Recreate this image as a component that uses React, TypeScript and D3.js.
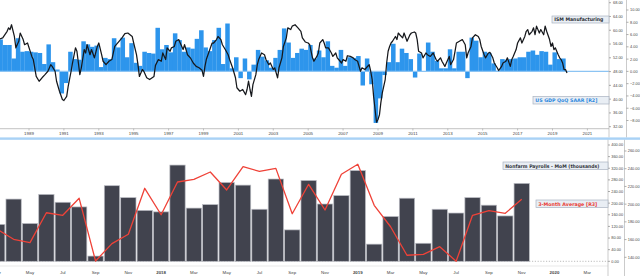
import React from "react";
import * as d3 from "d3";

const W = 640;
const H = 276;

// ---------- top chart data ----------
const yearTicks = [1989, 1991, 1993, 1995, 1997, 1999, 2001, 2003, 2005, 2007, 2009, 2011, 2013, 2015, 2017, 2019, 2021];
const ismTicks = [32, 36, 40, 44, 48, 52, 56, 60, 64, 68];
const gdpTicks = [-8, -6, -4, -2, 0, 2, 4, 6, 8, 10];

const ismSeries: [string, number][] = [
  ["1987-05", 57.5], ["1987-07", 57.8], ["1987-10", 59.7], ["1987-11", 60.7], ["1987-12", 60.2],
  ["1988-01", 61.6], ["1988-03", 58.2], ["1988-04", 54.9], ["1988-06", 56.8], ["1988-07", 59.2],
  ["1988-09", 57.3], ["1988-10", 55.8], ["1988-12", 56.3], ["1989-03", 52.4], ["1989-04", 51.5],
  ["1989-06", 46.6], ["1989-08", 45.2], ["1989-10", 46.2], ["1989-12", 47.1], ["1990-02", 48.1],
  ["1990-04", 50.0], ["1990-05", 49.5], ["1990-07", 48.1], ["1990-08", 45.2], ["1990-10", 42.3],
  ["1990-12", 39.9], ["1991-01", 39.6], ["1991-03", 40.8], ["1991-04", 43.7], ["1991-06", 48.1],
  ["1991-07", 50.5], ["1991-09", 54.9], ["1991-10", 53.9], ["1991-11", 50.5], ["1991-12", 47.1],
  ["1992-01", 49.1], ["1992-03", 54.4], ["1992-04", 53.4], ["1992-05", 55.8], ["1992-07", 52.9],
  ["1992-08", 54.4], ["1992-10", 52.0], ["1992-12", 55.3], ["1993-01", 56.3], ["1993-03", 52.9],
  ["1993-04", 51.0], ["1993-06", 50.0], ["1993-08", 51.0], ["1993-10", 51.5], ["1993-12", 55.3],
  ["1994-03", 56.8], ["1994-05", 57.8], ["1994-07", 59.0], ["1994-09", 59.2], ["1994-12", 58.2],
  ["1995-01", 56.3], ["1995-03", 52.9], ["1995-04", 50.0], ["1995-05", 46.6], ["1995-07", 48.6],
  ["1995-08", 48.1], ["1995-10", 46.2], ["1995-12", 45.7], ["1996-03", 46.6], ["1996-04", 49.8],
  ["1996-06", 51.5], ["1996-08", 51.0], ["1996-09", 53.4], ["1996-11", 51.5], ["1996-12", 54.9],
  ["1997-02", 53.9], ["1997-03", 54.9], ["1997-05", 55.3], ["1997-06", 56.8], ["1997-08", 57.3],
  ["1997-09", 56.3], ["1997-11", 54.4], ["1997-12", 55.8], ["1998-02", 52.9], ["1998-04", 52.0],
  ["1998-06", 50.5], ["1998-08", 49.5], ["1998-10", 49.1], ["1998-12", 48.4], ["1999-01", 46.6],
  ["1999-02", 49.5], ["1999-03", 51.5], ["1999-05", 53.9], ["1999-07", 56.3], ["1999-08", 56.3],
  ["1999-10", 57.3], ["1999-11", 58.2], ["2000-01", 57.3], ["2000-02", 55.8], ["2000-04", 54.4],
  ["2000-06", 52.9], ["2000-07", 51.5], ["2000-09", 49.1], ["2000-11", 46.2], ["2000-12", 43.3],
  ["2001-02", 42.3], ["2001-04", 42.8], ["2001-06", 41.3], ["2001-07", 42.8], ["2001-08", 45.2],
  ["2001-09", 42.8], ["2001-10", 40.8], ["2001-11", 44.2], ["2002-01", 47.1], ["2002-02", 50.0],
  ["2002-03", 51.5], ["2002-05", 53.4], ["2002-07", 52.9], ["2002-08", 51.5], ["2002-10", 50.0],
  ["2002-11", 50.5], ["2003-01", 48.6], ["2003-02", 49.1], ["2003-04", 46.2], ["2003-05", 49.1],
  ["2003-07", 52.0], ["2003-08", 55.3], ["2003-10", 57.8], ["2003-11", 60.7], ["2004-01", 60.2],
  ["2004-02", 61.2], ["2004-04", 61.6], ["2004-06", 60.7], ["2004-08", 59.7], ["2004-09", 57.8],
  ["2004-11", 56.6], ["2005-01", 56.3], ["2005-02", 55.8], ["2005-04", 52.0], ["2005-05", 51.0],
  ["2005-07", 52.4], ["2005-08", 53.4], ["2005-09", 56.3], ["2005-11", 57.3], ["2005-12", 56.3],
  ["2006-01", 54.9], ["2006-03", 54.9], ["2006-05", 53.4], ["2006-06", 52.4], ["2006-08", 53.4],
  ["2006-09", 52.0], ["2006-11", 51.0], ["2006-12", 50.5], ["2007-01", 51.5], ["2007-03", 51.0],
  ["2007-04", 52.6], ["2007-06", 52.4], ["2007-08", 52.0], ["2007-09", 51.5], ["2007-11", 51.0],
  ["2008-01", 48.1], ["2008-02", 49.1], ["2008-04", 48.6], ["2008-05", 49.1], ["2008-07", 50.0],
  ["2008-08", 48.1], ["2008-09", 45.7], ["2008-10", 40.8], ["2008-11", 37.0], ["2008-12", 33.3],
  ["2009-01", 34.1], ["2009-02", 35.5], ["2009-03", 38.9], ["2009-04", 41.8], ["2009-06", 45.7],
  ["2009-07", 50.5], ["2009-08", 53.9], ["2009-09", 55.3], ["2009-10", 56.3], ["2009-11", 56.8],
  ["2010-01", 58.2], ["2010-02", 57.3], ["2010-03", 59.2], ["2010-04", 58.7], ["2010-06", 57.8],
  ["2010-07", 59.2], ["2010-09", 56.8], ["2010-11", 58.7], ["2010-12", 59.2], ["2011-02", 59.5],
  ["2011-03", 59.2], ["2011-04", 57.3], ["2011-05", 53.9], ["2011-07", 53.4], ["2011-08", 52.0],
  ["2011-10", 53.4], ["2011-11", 52.9], ["2012-01", 52.4], ["2012-03", 53.4], ["2012-05", 51.5],
  ["2012-06", 51.0], ["2012-08", 52.0], ["2012-09", 51.0], ["2012-11", 49.5], ["2012-12", 50.5],
  ["2013-02", 52.4], ["2013-03", 50.0], ["2013-05", 51.5], ["2013-06", 53.9], ["2013-07", 56.3],
  ["2013-09", 56.8], ["2013-11", 57.3], ["2014-01", 55.8], ["2014-02", 52.0], ["2014-03", 53.4],
  ["2014-05", 55.3], ["2014-06", 57.8], ["2014-08", 58.7], ["2014-10", 58.2], ["2014-11", 57.3],
  ["2014-12", 55.3], ["2015-02", 52.9], ["2015-03", 52.0], ["2015-05", 53.4], ["2015-06", 53.6],
  ["2015-08", 52.0], ["2015-09", 50.5], ["2015-11", 49.1], ["2015-12", 48.3], ["2016-02", 49.5],
  ["2016-03", 50.5], ["2016-05", 51.0], ["2016-06", 52.0], ["2016-08", 49.5], ["2016-09", 51.5],
  ["2016-10", 52.4], ["2016-12", 54.4], ["2017-01", 56.3], ["2017-03", 57.8], ["2017-04", 56.3],
  ["2017-06", 58.2], ["2017-07", 59.7], ["2017-08", 60.2], ["2017-09", 58.7], ["2017-11", 59.7],
  ["2017-12", 60.7], ["2018-01", 58.7], ["2018-02", 61.2], ["2018-04", 59.2], ["2018-05", 60.2],
  ["2018-07", 58.7], ["2018-08", 61.2], ["2018-09", 59.7], ["2018-11", 57.3], ["2018-12", 55.3],
  ["2019-01", 56.3], ["2019-02", 54.4], ["2019-03", 54.9], ["2019-05", 52.9], ["2019-06", 52.0],
  ["2019-07", 51.5], ["2019-08", 50.5], ["2019-09", 48.6], ["2019-10", 48.6], ["2019-11", 47.6],
];

// quarterly GDP QoQ SAAR, first quarter starts at gdpFirstQuarter
const gdpFirstQuarter = "1987-04";
const gdpValues = [
  5.2, 4.3, 4.3,
  2.1, 5.4, 3.2, 3.3,
  3.2, 3.1, 3.0, 1.2,
  4.4, 1.5, 0.3, -3.6,
  -1.9, 3.2, 2.0, 1.9,
  4.9, 4.4, 4.0, 4.2,
  0.7, 2.2, 2.0, 5.4,
  3.9, 5.5, 2.3, 4.6,
  1.4, 0.9, 3.2, 3.0,
  2.9, 7.1, 3.6, 4.3,
  3.1, 6.2, 5.1, 3.2,
  3.9, 3.7, 5.3, 6.7,
  3.9, 3.3, 5.1, 7.1,
  1.2, 7.8, 0.5, 2.3,
  -1.1, 2.1, -1.3, 1.1,
  3.5, 2.4, 1.8, 0.6,
  2.2, 3.5, 7.0, 4.7,
  2.2, 3.0, 3.7, 3.5,
  4.3, 2.1, 3.4, 2.3,
  4.9, 0.9, 0.6, 3.5,
  0.9, 2.3, 2.2, 2.5,
  -2.3, 2.1, -2.1, -8.4,
  -4.4, -0.6, 1.5, 4.5,
  1.5, 3.7, 3.0, 2.0,
  -1.0, 2.9, -0.1, 4.7,
  3.2, 1.7, 0.5, 0.5,
  3.6, 0.5, 3.2, 3.2,
  -1.1, 5.5, 5.0, 2.3,
  3.2, 3.0, 1.3, 0.1,
  2.0, 1.9, 2.0, 2.1,
  2.3, 2.3, 3.2, 3.4,
  2.7, 3.3, 3.2, 1.1,
  3.1, 2.0, 2.1,
];

// ---------- bottom chart data ----------
const nfpMonths = [
  "2017-03", "2017-04", "2017-05", "2017-06", "2017-07", "2017-08", "2017-09", "2017-10", "2017-11", "2017-12",
  "2018-01", "2018-02", "2018-03", "2018-04", "2018-05", "2018-06", "2018-07", "2018-08", "2018-09", "2018-10",
  "2018-11", "2018-12", "2019-01", "2019-02", "2019-03", "2019-04", "2019-05", "2019-06", "2019-07", "2019-08",
  "2019-09", "2019-10", "2019-11",
];
const nfpValues = [
  127, 214, 130, 230, 203, 187, 18, 260, 219, 175,
  170, 331, 183, 195, 271, 262, 179, 283, 108, 278,
  197, 226, 312, 59, 154, 217, 62, 179, 166, 219,
  193, 156, 268,
];
const avg3Values = [
  171.6, 160.3, 156.5, 190.3, 187.4, 206.6, 135.8, 155.4, 166.0, 217.9,
  188.0, 225.0, 228.0, 236.3, 216.0, 242.3, 237.0, 240.4, 189.2, 222.4,
  193.4, 233.7, 245.0, 198.7, 174.5, 142.3, 143.4, 152.0, 135.5, 187.4,
  192.6, 189.7, 205.5,
];
const bottomTickMonths = [
  "2017-03", "2017-05", "2017-07", "2017-09", "2017-11", "2018-01", "2018-03", "2018-05", "2018-07", "2018-09",
  "2018-11", "2019-01", "2019-03", "2019-05", "2019-07", "2019-09", "2019-11", "2020-01", "2020-03",
];
const nfpTicks = [0, 40, 80, 120, 160, 200, 240, 280, 320, 360, 400];
const avgTicks = [140, 160, 180, 200, 220, 240, 260];

// ---------- helpers ----------
const pm = (s: string) => {
  const [y, m] = s.split("-").map(Number);
  return new Date(y, m - 1, 1);
};
const monthIdx = (s: string) => {
  const [y, m] = s.split("-").map(Number);
  return (y - 2017) * 12 + (m - 3);
};
const fmt2 = d3.format(".2f");
const monthName = d3.timeFormat("%b");

const AX = "Liberation Sans, Arial, sans-serif";
const LEG = "DejaVu Sans, Verdana, sans-serif";
const AXFS = 3.9;

export default function App() {
  // top chart geometry
  const topRight = 609;
  const topAxis2 = 626.5;
  const xT = d3.scaleTime().domain([new Date(1989, 0, 1), new Date(2021, 0, 1)]).range([29, 587.4]);
  const yIsm = d3.scaleLinear().domain([32, 68]).range([126.7, 2.7]);
  const yGdp = d3.scaleLinear().domain([-8, 10]).range([120.5, 10]);

  const ismLine = d3
    .line<[string, number]>()
    .x((d) => xT(pm(d[0])))
    .y((d) => yIsm(d[1]))
    .curve(d3.curveLinear);

  const gdpStart = pm(gdpFirstQuarter);
  const gdpBars = gdpValues.map((v, i) => {
    const s = d3.timeMonth.offset(gdpStart, 3 * i);
    const e = d3.timeMonth.offset(gdpStart, 3 * i + 3);
    return { x0: xT(s), x1: xT(e), v };
  });

  // bottom chart geometry
  const botRight = 608;
  const botAxis2 = 624.5;
  const xB = d3.scaleLinear().domain([2, 32]).range([30, 521.7]);
  const step = xB(1) - xB(0);
  const yNfp = d3.scaleLinear().domain([0, 400]).range([261.3, 145]);
  const yAvg = d3.scaleLinear().domain([140, 260]).range([257.3, 151]);
  const avgLine = d3
    .line<number>()
    .x((_, i) => xB(monthIdx(nfpMonths[i])))
    .y((d) => yAvg(d));

  const legendBox = (x: number, y: number, w: number, h: number, text: string, color: string, tl: number) => (
    <g>
      <rect x={x} y={y} width={w} height={h} fill="#e9eef4" stroke="#a9b3c1" strokeWidth={0.7} />
      <text
        x={x + 2.3}
        y={y + h / 2 + 1.75}
        fontFamily={LEG}
        fontWeight="bold"
        fontSize={4.9}
        fill={color}
        textLength={tl}
        lengthAdjust="spacingAndGlyphs"
      >
        {text}
      </text>
    </g>
  );

  return (
    <svg
      width={W}
      height={H}
      viewBox={`0 0 ${W} ${H}`}
      style={{ position: "fixed", left: 0, top: 0, background: "#fff" }}
    >
      <defs>
        <clipPath id="topClip">
          <rect x={0} y={0} width={topRight} height={128.5} />
        </clipPath>
        <clipPath id="botClip">
          <rect x={0} y={140} width={botRight} height={126} />
        </clipPath>
      </defs>
      <rect x={0} y={0} width={W} height={H} fill="#ffffff" />

      {/* ================= TOP CHART ================= */}
      <g clipPath="url(#topClip)">
        {gdpBars.map((b, i) => (
          <rect
            key={i}
            x={b.x0}
            width={Math.max(0.1, b.x1 - b.x0 + 0.15)}
            y={Math.min(yGdp(b.v), yGdp(0))}
            height={Math.abs(yGdp(b.v) - yGdp(0))}
            fill="#2d95ec"
          />
        ))}
        <line x1={0} x2={topRight} y1={yGdp(0)} y2={yGdp(0)} stroke="#8cc4f3" strokeWidth={1.4} />
        <path d={ismLine(ismSeries) || ""} fill="none" stroke="#16181c" strokeWidth={1.25} strokeLinejoin="round" />
      </g>

      {/* top x axis */}
      <line x1={0} x2={topRight} y1={128.7} y2={128.7} stroke="#9a9a9a" strokeWidth={0.6} />
      {yearTicks.map((yr) => {
        const x = xT(new Date(yr, 0, 1));
        return (
          <g key={yr}>
            <line x1={x} x2={x} y1={128.7} y2={130.5} stroke="#888" strokeWidth={0.5} />
            <text x={x} y={135.1} textAnchor="middle" fontFamily={AX} fontSize={4.4} fill="#444">
              {yr}
            </text>
          </g>
        );
      })}

      {/* top right axes */}
      <line x1={topRight} x2={topRight} y1={0} y2={137.5} stroke="#b5b5b5" strokeWidth={0.7} />
      <line x1={topAxis2} x2={topAxis2} y1={0} y2={137.5} stroke="#b5b5b5" strokeWidth={0.7} />
      {ismTicks.map((t) => (
        <g key={"i" + t}>
          <line x1={topRight} x2={topRight + 2} y1={yIsm(t)} y2={yIsm(t)} stroke="#777" strokeWidth={0.6} />
          <text x={topRight + 4} y={yIsm(t) + 1.4} fontFamily={AX} fontSize={AXFS} fill="#444">
            {fmt2(t)}
          </text>
        </g>
      ))}
      {gdpTicks.map((t) => (
        <g key={"g" + t}>
          <line x1={topAxis2} x2={topAxis2 + 2} y1={yGdp(t)} y2={yGdp(t)} stroke="#777" strokeWidth={0.6} />
          <text x={topAxis2 + 3.5} y={yGdp(t) + 1.4} fontFamily={AX} fontSize={AXFS} fill="#444">
            {fmt2(t)}
          </text>
        </g>
      ))}

      {legendBox(552, 16, 57, 7, "ISM Manufacturing", "#2a2d33", 49)}
      {legendBox(533, 96.5, 76, 7.5, "US GDP QoQ SAAR [R2]", "#2a88de", 62)}

      {/* separator */}
      <rect x={0} y={137.4} width={W} height={2.4} fill="#a9d2f6" />

      {/* ================= BOTTOM CHART ================= */}
      <line
        x1={0}
        x2={botRight}
        y1={yNfp(0)}
        y2={yNfp(0)}
        stroke="#a0a0a0"
        strokeWidth={0.7}
        strokeDasharray="1.2,1.6"
      />
      <g clipPath="url(#botClip)">
        {nfpValues.map((v, i) => {
          const cx = xB(monthIdx(nfpMonths[i]));
          const bw = step - 1.1;
          return (
            <rect
              key={i}
              x={cx - bw / 2}
              width={bw}
              y={yNfp(v)}
              height={yNfp(0) - yNfp(v)}
              fill="#41434e"
              stroke="#b9bbc2"
              strokeWidth={0.7}
            />
          );
        })}
        <path d={avgLine(avg3Values) || ""} fill="none" stroke="#ef4238" strokeWidth={1.3} strokeLinejoin="round" />
      </g>

      {/* bottom x axis */}
      <line x1={0} x2={botRight} y1={266} y2={266} stroke="#d0d0d0" strokeWidth={0.5} />
      {bottomTickMonths.map((m) => {
        const x = xB(monthIdx(m));
        const d = pm(m);
        const label = d.getMonth() === 0 ? String(d.getFullYear()) : monthName(d);
        return (
          <text
            key={m}
            x={x}
            y={274.3}
            textAnchor="middle"
            fontFamily={AX}
            fontSize={4.4}
            fontWeight={d.getMonth() === 0 ? "bold" : "normal"}
            fill="#444"
          >
            {label}
          </text>
        );
      })}

      {/* bottom right axes */}
      <line x1={botRight} x2={botRight} y1={139.8} y2={H} stroke="#b5b5b5" strokeWidth={0.7} />
      <line x1={botAxis2} x2={botAxis2} y1={139.8} y2={H} stroke="#b5b5b5" strokeWidth={0.7} />
      {nfpTicks.map((t) => (
        <g key={"n" + t}>
          <line x1={botRight} x2={botRight + 2} y1={yNfp(t)} y2={yNfp(t)} stroke="#777" strokeWidth={0.6} />
          <text x={botRight + 3.3} y={yNfp(t) + 1.4} fontFamily={AX} fontSize={AXFS} fill="#444">
            {fmt2(t)}
          </text>
        </g>
      ))}
      {avgTicks.map((t) => (
        <g key={"a" + t}>
          <line x1={botAxis2} x2={botAxis2 + 2} y1={yAvg(t)} y2={yAvg(t)} stroke="#777" strokeWidth={0.6} />
          <text x={botAxis2 + 3.3} y={yAvg(t) + 1.4} fontFamily={AX} fontSize={AXFS} fill="#444">
            {fmt2(t)}
          </text>
        </g>
      ))}

      {legendBox(503, 162, 105, 7.5, "Nonfarm Payrolls - MoM (thousands)", "#30333a", 94)}
      {legendBox(536, 200, 72, 7.5, "3-Month Average [R3]", "#ea3b33", 59)}
    </svg>
  );
}
